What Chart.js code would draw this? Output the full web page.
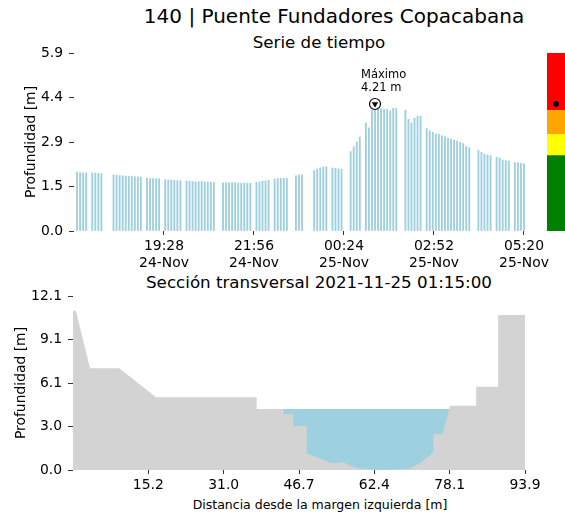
<!DOCTYPE html>
<html>
<head>
<meta charset="utf-8">
<script src="https://cdn.jsdelivr.net/npm/chart.js@4.4.1/dist/chart.umd.min.js"></script>
<style>
  body { margin: 0; background: #fff; width: 565px; height: 516px; overflow: hidden; position: relative; font-family: "DejaVu Sans"; }
  canvas { position: absolute; }
  .title { position: absolute; white-space: nowrap; color: #000; line-height: 1; transform: translateX(-50%); }
</style>
</head>
<body>
<div class="title" style="left:334px; top:6px; font-size:20px;">140 | Puente Fundadores Copacabana</div>
<div class="title" style="left:319px; top:34px; font-size:16.7px;">Serie de tiempo</div>
<div class="title" style="left:319px; top:274px; font-size:16.7px;">Sección transversal 2021-11-25 01:15:00</div>
<div class="title" style="left:320px; top:499px; font-size:12.5px;">Distancia desde la margen izquierda [m]</div>

<canvas id="serie" width="565" height="280" style="left:0; top:0;"></canvas>
<canvas id="seccion" width="565" height="236" style="left:0; top:280px;"></canvas>
<canvas id="nivel" width="18" height="178" style="left:547px; top:53px;"></canvas>

<script>
// --- time series: one reading every 5 minutes starting 24-Nov 17:00 (null = no reading)
const stepMinutes = 5;
const depths = [
  null, 1.95, 1.93, 1.93, 1.92, null, 1.92, 1.92, 1.91, 1.90,
  null, null, null, 1.86, 1.85, 1.83, 1.83, 1.82, 1.82, 1.81,
  1.80, 1.79, 1.78, null, 1.75, 1.74, 1.74, 1.73, 1.73, null,
  1.70, 1.69, 1.69, 1.68, 1.67, 1.67, null, 1.66, 1.65, 1.64,
  1.63, 1.63, 1.65, 1.63, 1.62, 1.62, 1.61, null, null, 1.60,
  1.60, 1.60, 1.60, 1.60, 1.59, 1.59, 1.59, 1.58, 1.58, null,
  1.61, 1.63, 1.65, 1.66, 1.68, null, 1.72, 1.74, 1.75, 1.75,
  1.74, null, null, 1.83, 1.85, 1.86, null, null, null, 2.00,
  2.05, 2.09, 2.12, 2.13, null, 2.09, 2.08, 2.06, 2.05, null,
  null, 2.63, 2.79, 2.95, 3.12, null, 3.58, 3.42, 4.00, 4.21,
  4.05, 4.05, 4.03, 4.04, 3.98, 4.07, 4.06, null, null, 4.00,
  3.70, 3.58, 3.74, 3.80, 3.81, null, 3.40, 3.32, 3.27, 3.22,
  3.21, 3.16, 3.12, 3.07, 3.05, 3.01, 2.98, 2.94, 2.90, 2.80,
  2.76, null, null, 2.68, 2.60, 2.55, 2.52, 2.50, null, 2.45,
  2.42, 2.35, 2.33, 2.32, null, 2.27, 2.26, 2.24, 2.23
];
const xTickMinutes = [148, 296, 444, 592, 740];
const xTickTimes = ['19:28', '21:56', '00:24', '02:52', '05:20'];
const xTickDates = ['24-Nov', '24-Nov', '25-Nov', '25-Nov', '25-Nov'];
const yTickValues = [0, 1.475, 2.95, 4.425, 5.9];
const yTickLabels = ['0.0', '1.5', '2.9', '4.4', '5.9'];

// --- alert levels on the right
const bandEdges = [0, 2.5, 3.2, 4.0, 5.9];
const bandColors = ['#008000', '#ffff00', '#ffa500', '#ff0000'];

// --- cross section
const bedX = [-0.5, 0.1, 3.05, 9.17, 16.84, 37.86, 37.86, 43.3, 43.3, 45.5, 45.5, 48.3, 48.3,
              53.5, 55.96, 58.75, 63.97, 67.1, 69.5, 72.0, 74.75, 74.75, 76.7, 78.24,
              83.7, 83.7, 88.3, 88.3, 94.05, 94.05];
const bedY = [11.1, 11.1, 7.08, 7.08, 5.06, 5.06, 4.25, 4.25, 3.9, 3.9, 3.06, 3.06, 1.16,
              0.47, 0.54, 0.12, 0.0, 0.05, 0.07, 0.47, 1.23, 2.5, 2.5, 4.48,
              4.48, 5.8, 5.8, 10.8, 10.8, 0];
const waterLevel = 4.25;
const waterX = [43.3, 78.2];
const secXTicks = [15.23, 30.97, 46.7, 62.43, 78.17, 93.9];
const secXLabels = ['15.2', '31.0', '46.7', '62.4', '78.1', '93.9'];
const secYTicks = [0, 3.03, 6.06, 9.09, 12.12];
const secYLabels = ['0.0', '3.0', '6.1', '9.1', '12.1'];

const FONT = 'DejaVu Sans';
const tickFont = { family: FONT, size: 13.9 };
const titleFont = { family: FONT, size: 13.9 };

const seriesPoints = depths.map((v, i) => ({ x: i * stepMinutes, y: v }));
const valid = seriesPoints.filter(p => p.y !== null);
const maxPoint = valid.reduce((a, b) => (b.y > a.y ? b : a));

const maxLabel = {
  id: 'maxLabel',
  afterDatasetsDraw(chart) {
    const { ctx, scales } = chart;
    const px = scales.x.getPixelForValue(maxPoint.x);
    const py = scales.y.getPixelForValue(maxPoint.y);
    ctx.save();
    ctx.font = '11.5px "DejaVu Sans"';
    ctx.fillStyle = '#000';
    ctx.textAlign = 'left';
    ctx.textBaseline = 'alphabetic';
    ctx.fillText('Máximo', px - 14, py - 25.5);
    ctx.fillText(maxPoint.y.toFixed(2) + ' m', px - 14, py - 13);
    ctx.restore();
  }
};

const noSidePadding = s => { s.paddingLeft = 0; s.paddingRight = 0; };

new Chart(document.getElementById('serie'), {
  type: 'bar',
  data: {
    datasets: [
      {
        type: 'line', data: [maxPoint], showLine: false,
        pointStyle: 'triangle', rotation: 180, pointRadius: 3.2,
        pointBackgroundColor: '#000', pointBorderColor: '#000', pointBorderWidth: 0.5
      },
      {
        type: 'line', data: [maxPoint], showLine: false,
        pointStyle: 'circle', pointRadius: 5.5,
        pointBackgroundColor: '#fff', pointBorderColor: '#000', pointBorderWidth: 1.2
      },
      {
        data: seriesPoints, backgroundColor: '#9ecfdf', barThickness: 1.2
      }
    ]
  },
  options: {
    responsive: false,
    animation: false,
    layout: { autoPadding: false, padding: { top: 53, right: 37, left: 0, bottom: 0 } },
    plugins: { legend: { display: false }, tooltip: { enabled: false } },
    scales: {
      x: {
        type: 'linear', min: 0, max: 746.6, offset: false,
        afterBuildTicks: s => { s.ticks = xTickMinutes.map(v => ({ value: v })); },
        afterFit: s => { s.height = 49; noSidePadding(s); },
        ticks: {
          autoSkip: false, maxRotation: 0, padding: 3, color: '#000', font: tickFont,
          callback: (v, i) => [xTickTimes[i], xTickDates[i]]
        },
        grid: { drawOnChartArea: false, drawTicks: true, tickLength: 4, tickColor: '#333', offset: false },
        border: { display: false }
      },
      y: {
        min: 0, max: 5.9,
        afterBuildTicks: s => { s.ticks = yTickValues.map(v => ({ value: v })); },
        afterFit: s => { s.width = 74; },
        ticks: { padding: 6, color: '#000', font: tickFont, callback: (v, i) => yTickLabels[i] },
        grid: { drawOnChartArea: false, drawTicks: true, tickLength: 5, tickColor: '#333' },
        border: { display: false },
        title: { display: true, text: 'Profundidad [m]', color: '#000', font: titleFont, padding: { top: 22.7, bottom: 0 } }
      }
    }
  },
  plugins: [maxLabel]
});

new Chart(document.getElementById('nivel'), {
  type: 'bar',
  data: {
    labels: ['nivel'],
    datasets: [
      { type: 'line', data: [maxPoint.y], showLine: false, pointRadius: 2.5,
        pointBackgroundColor: '#000', pointBorderColor: '#000' },
      ...bandColors.map((c, i) => ({
        data: [[bandEdges[i], bandEdges[i + 1]]], backgroundColor: c,
        barPercentage: 1, categoryPercentage: 1, borderWidth: 0, grouped: false
      }))
    ]
  },
  options: {
    responsive: false,
    animation: false,
    layout: { autoPadding: false, padding: 0 },
    plugins: { legend: { display: false }, tooltip: { enabled: false } },
    scales: {
      x: { display: false },
      y: { display: false, min: 0, max: 5.9 }
    }
  }
});

new Chart(document.getElementById('seccion'), {
  type: 'line',
  data: {
    datasets: [
      {
        data: bedX.map((x, i) => ({ x, y: bedY[i] })),
        fill: 'origin', backgroundColor: '#d3d3d3',
        borderColor: 'rgba(0,0,0,0)', borderWidth: 1, pointRadius: 0, tension: 0
      },
      {
        data: waterX.map(x => ({ x, y: waterLevel })),
        fill: 'origin', backgroundColor: '#9ed1e0',
        borderColor: 'rgba(0,0,0,0)', borderWidth: 1, pointRadius: 0, tension: 0
      }
    ]
  },
  options: {
    responsive: false,
    animation: false,
    layout: { autoPadding: false, padding: { top: 16, right: 40, left: 0, bottom: 0 } },
    plugins: { legend: { display: false }, tooltip: { enabled: false } },
    scales: {
      x: {
        type: 'linear', min: -0.5, max: 93.9,
        afterBuildTicks: s => { s.ticks = secXTicks.map(v => ({ value: v })); },
        afterFit: s => { s.height = 46; noSidePadding(s); },
        ticks: { autoSkip: false, maxRotation: 0, padding: 3, color: '#000', font: tickFont,
                 callback: (v, i) => secXLabels[i] },
        grid: { drawOnChartArea: false, drawTicks: true, tickLength: 4, tickColor: '#333' },
        border: { display: false }
      },
      y: {
        min: 0, max: 12.12,
        afterBuildTicks: s => { s.ticks = secYTicks.map(v => ({ value: v })); },
        afterFit: s => { s.width = 73; },
        ticks: { padding: 6, color: '#000', font: tickFont, callback: (v, i) => secYLabels[i] },
        grid: { drawOnChartArea: false, drawTicks: true, tickLength: 5, tickColor: '#333' },
        border: { display: false },
        title: { display: true, text: 'Profundidad [m]', color: '#000', font: titleFont, padding: { top: 12.7, bottom: 0 } }
      }
    }
  }
});
</script>
</body>
</html>
